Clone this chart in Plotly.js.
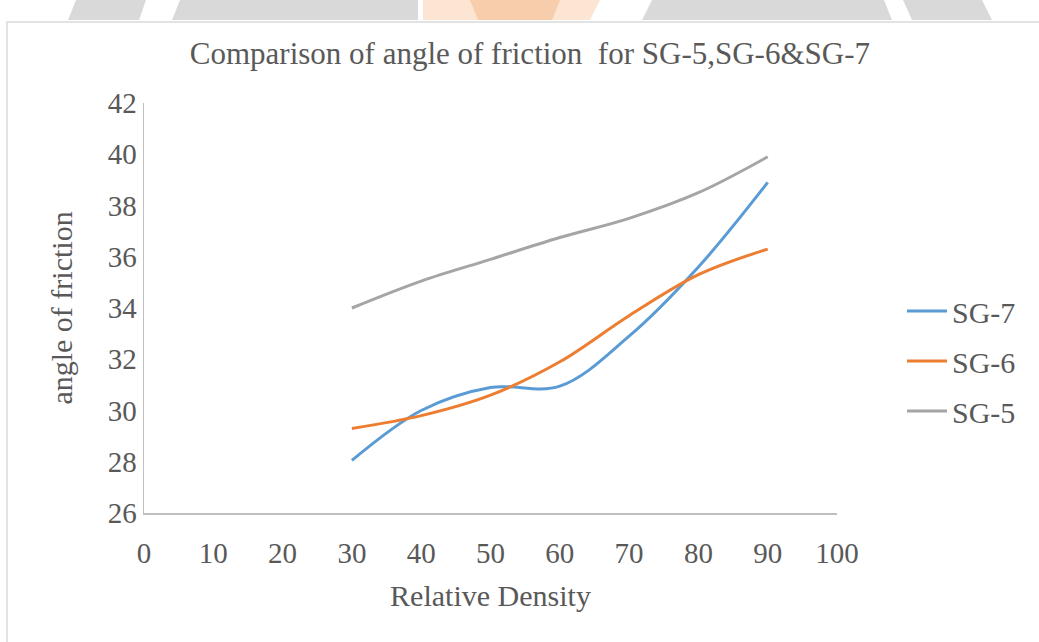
<!DOCTYPE html>
<html>
<head>
<meta charset="utf-8">
<script src="https://cdn.plot.ly/plotly-3.0.1.min.js"></script>
<style>html,body{margin:0;padding:0;background:#fff;}#chart{width:1039px;height:642px;}</style>
</head>
<body>
<div id="chart"></div>
<script>
// ---- data ----
const relativeDensity = [30, 40, 50, 60, 70, 80, 90];
const sg7 = [28.05, 30.0, 30.9, 30.95, 32.9, 35.6, 38.9];
const sg6 = [29.3, 29.8, 30.6, 31.9, 33.7, 35.3, 36.3];
const sg5 = [34.0, 35.05, 35.9, 36.75, 37.5, 38.5, 39.9];
const seriesNames = ['SG-7', 'SG-6', 'SG-5'];
const seriesColors = ['#5b9bd5', '#ed7d31', '#a5a5a5'];
const chartTitle = 'Comparison of angle of friction  for SG-5,SG-6&SG-7';
const xTitle = 'Relative Density';
const yTitle = 'angle of friction';

// ---- layout geometry ----
const W = 1039, H = 642;
const M = {l: 144, r: 202, t: 103, b: 129};
const pw = W - M.l - M.r, ph = H - M.t - M.b;
const px = x => (x - M.l) / pw;
const py = y => (H - M.b - y) / ph;

const FONT = '"Liberation Serif", "Times New Roman", serif';
const TXT = '#595959';

const traces = [sg7, sg6, sg5].map((ys, i) => ({
  type: 'scatter', mode: 'lines', name: seriesNames[i],
  x: relativeDensity, y: ys,
  line: {color: seriesColors[i], width: 3, shape: 'spline', smoothing: 1},
  legendgroup: 'g' + i
}));

// watermark band (decorative) and chart frame
function poly(pts, color, op) {
  return {type: 'path', xref: 'paper', yref: 'paper',
    path: 'M ' + pts.map(p => px(p[0]) + ',' + py(p[1])).join(' L ') + ' Z',
    fillcolor: color, line: {width: 0}, opacity: op, layer: 'below'};
}
const shapes = [
  poly([[76,0],[146,0],[139,20],[68,20]], '#d9d9d9', 1),
  poly([[180,0],[418,0],[418,20],[172,20]], '#d9d9d9', 1),
  poly([[423,0],[600,0],[590,20],[423,20]], '#fce6d3', 1),
  poly([[470,0],[560,0],[552,20],[478,20]], '#f7c29a', 0.7),
  poly([[652,0],[884,0],[892,20],[642,20]], '#d9d9d9', 1),
  poly([[903,0],[982,0],[992,20],[912,20]], '#d9d9d9', 1),
  {type: 'rect', xref: 'paper', yref: 'paper', x0: px(7), x1: px(1050), y0: py(22), y1: py(660),
   line: {color: '#d9d9d9', width: 1.5}, fillcolor: 'rgba(0,0,0,0)', layer: 'below'}
];

const layout = {
  width: W, height: H,
  margin: M,
  paper_bgcolor: '#ffffff', plot_bgcolor: '#ffffff',
  font: {family: FONT, color: TXT, size: 29},
  title: {text: chartTitle, font: {family: FONT, size: 31, color: TXT},
          xref: 'container', x: 0.51, xanchor: 'center', yref: 'container', y: 1 - 53 / H, yanchor: 'middle'},
  xaxis: {range: [0, 100], dtick: 10, tick0: 0, showgrid: false, zeroline: false,
          showline: true, linecolor: '#bfbfbf', linewidth: 1.5, ticks: '',
          ticklabelstandoff: 14, tickfont: {family: FONT, size: 29, color: TXT},
          title: {text: xTitle, font: {family: FONT, size: 30, color: TXT}, standoff: 16}},
  yaxis: {range: [26, 42], dtick: 2, tick0: 26, showgrid: false, zeroline: false,
          showline: true, linecolor: '#bfbfbf', linewidth: 1.5, ticks: '',
          ticklabelstandoff: 0, tickfont: {family: FONT, size: 29, color: TXT},
          title: {text: yTitle, font: {family: FONT, size: 30, color: TXT}, standoff: 26}},
  legend: {x: px(902), xanchor: 'left', y: py(361), yanchor: 'middle',
           font: {family: FONT, size: 30, color: TXT}, tracegroupgap: 8,
           bgcolor: 'rgba(0,0,0,0)', itemwidth: 40},
  shapes: shapes,
  showlegend: true
};

Plotly.newPlot('chart', traces, layout, {displayModeBar: false, staticPlot: true});
</script>
</body>
</html>
